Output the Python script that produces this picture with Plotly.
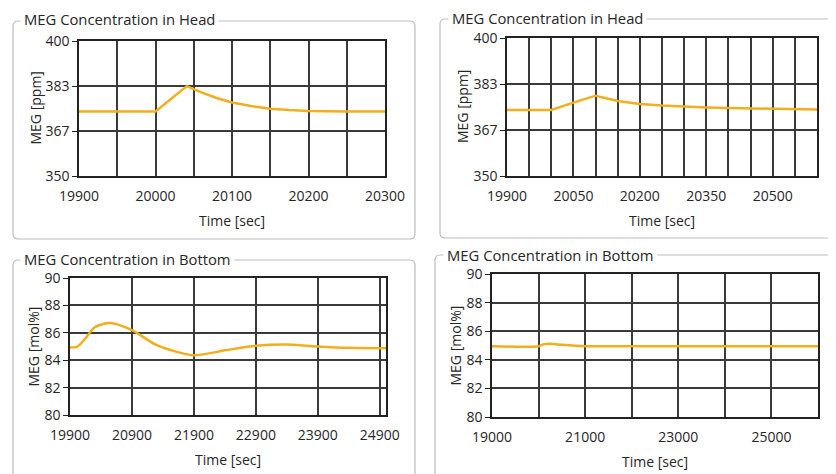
import plotly.graph_objects as go

# page body has an 8px default margin; the figure is sized to fill the rest
OFF = 8
W, H = 836 - OFF, 474 - OFF

# ---------------- data ----------------
head1_t = [19900, 20000, 20041, 20060, 20080, 20100, 20125, 20150, 20175, 20200, 20250, 20300]
head1_y = [373.9, 373.9, 383.3, 381.0, 378.9, 377.2, 375.9, 374.9, 374.4, 374.1, 373.9, 373.9]

head2_t = [19900, 20000, 20050, 20100, 20150, 20200, 20250, 20300, 20350, 20400, 20500, 20600]
head2_y = [373.9, 373.9, 376.6, 379.1, 377.2, 376.1, 375.5, 375.1, 374.8, 374.6, 374.3, 374.1]

bot1_t = [19900, 20000, 20050, 20150, 20300, 20550, 20900, 21300, 21900, 22400, 22900, 23400, 23900, 24400, 25000]
bot1_y = [84.95, 84.95, 85.1, 85.6, 86.4, 86.72, 86.2, 85.1, 84.37, 84.72, 85.05, 85.15, 85.0, 84.9, 84.88]

bot2_t = [19000, 20000, 20100, 20250, 20500, 20800, 21000, 22000, 26000]
bot2_y = [84.95, 84.95, 85.08, 85.12, 85.05, 84.98, 84.95, 84.95, 84.95]

head_yticks = [350, 350 + 50 / 3, 350 + 100 / 3, 400]
head_ytext = ["350", "367", "383", "400"]

titles = ["MEG Concentration in Head", "MEG Concentration in Head",
          "MEG Concentration in Bottom", "MEG Concentration in Bottom"]

# ---------------- layout helpers (screen pixels -> paper) ----------------
def px(x):
    return (x - OFF) / W

def py(y):
    return 1 - (y - OFF) / H

FONT = "Open Sans, Noto Sans, sans-serif"
TXT = "#262626"
LINE_COLOR = "#F2AE1C"
GRID = "#3a3a3a"
FS = 14

fig = go.Figure()

# plot areas in screen pixels: (x0, x1, ytop, ybottom)
areas = [
    (79, 385, 41, 176),
    (507, 817, 38, 176),
    (70, 386, 278, 415),
    (492, 818, 274, 417),
]

series = [(head1_t, head1_y, "linear"), (head2_t, head2_y, "linear"),
          (bot1_t, bot1_y, "spline"), (bot2_t, bot2_y, "spline")]

xcfg = [
    dict(range=[19900, 20300], tick0=19900, dtick=100, minor=dict(tick0=19900, dtick=50)),
    dict(range=[19900, 20600], tick0=19900, dtick=150, minor=dict(tick0=19900, dtick=50)),
    dict(range=[19900, 25000], tick0=19900, dtick=1000, minor=None),
    dict(range=[19000, 26000], tick0=19000, dtick=2000, minor=dict(tick0=19000, dtick=1000)),
]
ycfg = [
    dict(range=[350, 400], tickvals=head_yticks, ticktext=head_ytext),
    dict(range=[350, 400], tickvals=head_yticks, ticktext=head_ytext),
    dict(range=[80, 90], tick0=80, dtick=2),
    dict(range=[80, 90], tick0=80, dtick=2),
]
ytitles = ["MEG [ppm]", "MEG [ppm]", "MEG [mol%]", "MEG [mol%]"]

layout = {}
annotations = []
for i, ((x0, x1, yt, yb), (t, v, shape)) in enumerate(zip(areas, series)):
    n = "" if i == 0 else str(i + 1)
    fig.add_trace(go.Scatter(
        x=t, y=v, mode="lines", xaxis="x" + n, yaxis="y" + n,
        line=dict(color=LINE_COLOR, width=2.5, shape=shape, smoothing=0.8),
        showlegend=False, hoverinfo="skip"))
    xc = xcfg[i]
    xa = dict(
        domain=[px(x0), px(x1)], anchor="y" + n, range=xc["range"],
        tickmode="linear", tick0=xc["tick0"], dtick=xc["dtick"], tickformat="d",
        showgrid=True, gridcolor=GRID, gridwidth=1.5,
        showline=True, linecolor="#222", linewidth=1.5, mirror=True,
        ticks="", ticklabelstandoff=6,
        tickfont=dict(family=FONT, size=FS, color=TXT),
        zeroline=False, fixedrange=True, automargin=False,
    )
    if xc["minor"]:
        xa["minor"] = dict(tick0=xc["minor"]["tick0"], dtick=xc["minor"]["dtick"],
                           showgrid=True, gridcolor=GRID, gridwidth=1.5)
    yc = ycfg[i]
    ya = dict(
        domain=[py(yb), py(yt)], anchor="x" + n, range=yc["range"],
        showgrid=True, gridcolor=GRID, gridwidth=1.5,
        showline=True, linecolor="#222", linewidth=1.5, mirror=True,
        ticks="outside", ticklen=5, tickwidth=1.2, tickcolor="#222",
        tickfont=dict(family=FONT, size=FS, color=TXT),
        zeroline=False, fixedrange=True, automargin=False,
    )
    if "tickvals" in yc:
        ya["tickmode"] = "array"
        ya["tickvals"] = yc["tickvals"]
        ya["ticktext"] = yc["ticktext"]
    else:
        ya["tickmode"] = "linear"
        ya["tick0"] = yc["tick0"]
        ya["dtick"] = yc["dtick"]
    layout["xaxis" + n] = xa
    layout["yaxis" + n] = ya

    # axis titles
    annotations.append(dict(
        text="Time [sec]", xref="paper", yref="paper",
        x=px((x0 + x1) / 2), y=py(yb + 44), xanchor="center", yanchor="middle",
        showarrow=False, font=dict(family=FONT, size=FS, color=TXT)))
    annotations.append(dict(
        text=ytitles[i], xref="paper", yref="paper",
        x=px(x0 - 44 if i in (0, 1) else x0 - 37), y=py((yt + yb) / 2),
        xanchor="center", yanchor="middle", textangle=-90,
        showarrow=False, font=dict(family=FONT, size=FS, color=TXT)))

# group boxes (x0, x1, ytop, ybottom) and title position (x, y), screen pixels
boxes = [
    ((13, 415, 21, 239), (20, 19)),
    ((440, 860, 19, 238), (448, 18)),
    ((13, 415, 260, 500), (20, 259)),
    ((435, 860, 255, 500), (443, 255)),
]

def rounded(x0, x1, y0, y1, r=5):
    rx, ry = r / W, r / H
    X0, X1, Y0, Y1 = px(x0), px(x1), py(y1), py(y0)  # Y0 bottom, Y1 top
    return (f"M {X0 + rx},{Y1} L {X1 - rx},{Y1} Q {X1},{Y1} {X1},{Y1 - ry} "
            f"L {X1},{Y0 + ry} Q {X1},{Y0} {X1 - rx},{Y0} L {X0 + rx},{Y0} "
            f"Q {X0},{Y0} {X0},{Y0 + ry} L {X0},{Y1 - ry} Q {X0},{Y1} {X0 + rx},{Y1} Z")

shapes = []
for (b, (tx, ty)), title in zip(boxes, titles):
    shapes.append(dict(type="path", xref="paper", yref="paper",
                       path=rounded(*b), line=dict(color="#bdbdbd", width=1.2),
                       layer="below"))
    annotations.append(dict(
        text=title, xref="paper", yref="paper", x=px(tx), y=py(ty),
        xanchor="left", yanchor="middle", showarrow=False,
        bgcolor="white", borderpad=3,
        font=dict(family=FONT, size=14.8, color=TXT)))

fig.update_layout(
    width=W, height=H, margin=dict(l=0, r=0, t=0, b=0, autoexpand=False),
    paper_bgcolor="white", plot_bgcolor="white",
    shapes=shapes, annotations=annotations, **layout)

fig.write_html("out.html")
